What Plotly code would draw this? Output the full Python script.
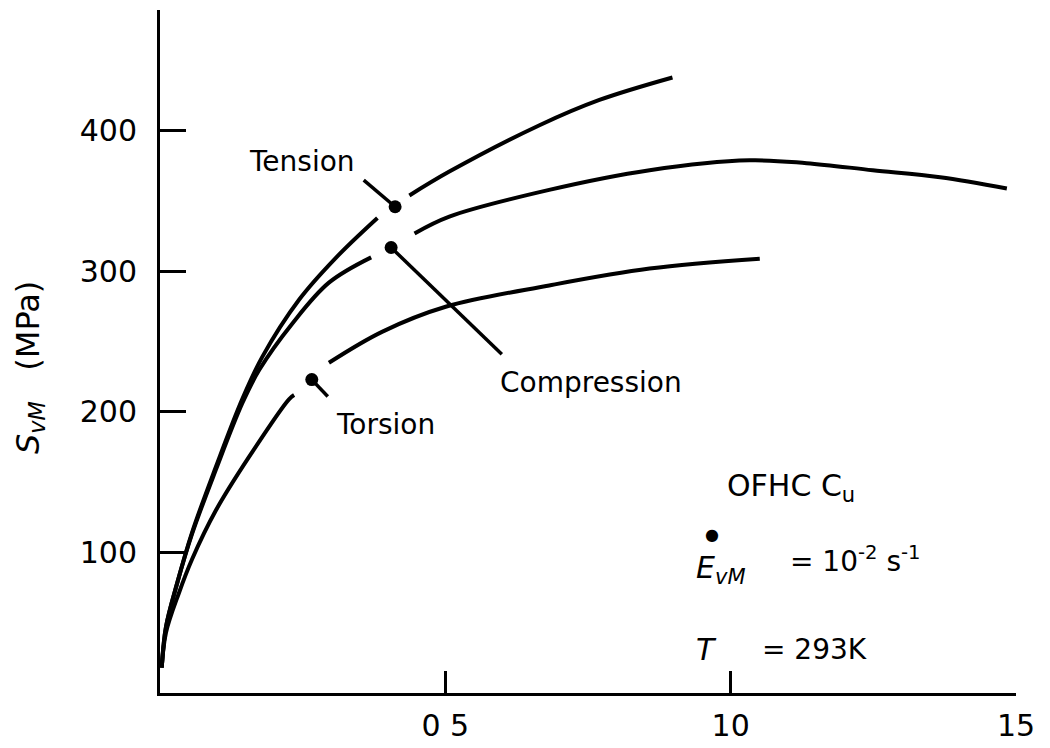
import plotly.graph_objects as go

# ---- data ----
tension_x = [0.003, 0.0105, 0.030, 0.056, 0.098, 0.144, 0.179, 0.244, 0.309, 0.381,
             None, 0.437, 0.507, 0.665, 0.770, 0.898]
tension_y = [18, 47, 78, 114, 161, 209, 239, 280, 310, 338,
             None, 354, 371, 404, 422, 438]

compression_x = [0.003, 0.0105, 0.030, 0.056, 0.098, 0.144, 0.174, 0.232, 0.296, 0.370,
                 None, 0.446, 0.507, 0.682, 0.858, 1.033, 1.133, 1.249, 1.367, 1.484]
compression_y = [18, 47, 78, 113, 159, 206, 230, 263, 292, 310,
                 None, 327, 339, 358, 372, 379, 377, 372, 367, 359]

torsion_x = [0.003, 0.0105, 0.033, 0.056, 0.098, 0.156, 0.226, 0.235,
             None, 0.296, 0.389, 0.502, 0.682, 0.858, 1.051]
torsion_y = [18, 43, 71, 95, 130, 168, 209, 212,
             None, 235, 257, 275, 290, 302, 309]

labels = ["Tension", "Compression", "Torsion"]
dot_x = [0.412, 0.405, 0.266]
dot_y = [346, 317, 223]
leader_end_x = [0.357, 0.599, 0.294]
leader_end_y = [365, 241, 211]
label_x = [0.249, 0.755, 0.396]
label_y = [378, 221, 191]

x_tickvals = [0.5, 1.0, 1.5]
x_ticktext = ["0 5", "10", "15"]
y_tickvals = [100, 200, 300, 400]
y_ticktext = ["100", "200", "300", "400"]

FONT = "DejaVu Sans"
INK = "black"

fig = go.Figure()

for xs, ys in [(tension_x, tension_y), (compression_x, compression_y), (torsion_x, torsion_y)]:
    fig.add_trace(go.Scatter(x=xs, y=ys, mode="lines",
                             line=dict(color=INK, width=4, shape="spline", smoothing=1.0),
                             connectgaps=False, showlegend=False, hoverinfo="skip"))

# leader lines
for i in range(3):
    fig.add_trace(go.Scatter(x=[dot_x[i], leader_end_x[i]], y=[dot_y[i], leader_end_y[i]],
                             mode="lines", line=dict(color=INK, width=3.5),
                             showlegend=False, hoverinfo="skip"))

# dots
fig.add_trace(go.Scatter(x=dot_x, y=dot_y, mode="markers",
                         marker=dict(color=INK, size=13),
                         showlegend=False, hoverinfo="skip"))

annotations = []
for i in range(3):
    annotations.append(dict(x=label_x[i], y=label_y[i], xref="x", yref="y",
                            text=labels[i], showarrow=False,
                            font=dict(family=FONT, size=28, color=INK)))

# text block
annotations += [
    dict(x=0.990, y=146, xref="x", yref="y", xanchor="left", text="OFHC C<sub>u</sub>",
         showarrow=False, font=dict(family=FONT, size=30, color=INK)),
    dict(x=0.967, y=113, xref="x", yref="y", text="●", showarrow=False,
         font=dict(family=FONT, size=16, color=INK)),
    dict(x=0.935, y=88, xref="x", yref="y", xanchor="left",
         text="<i>E</i><sub><i>vM</i></sub>",
         showarrow=False, font=dict(family=FONT, size=30, color=INK)),
    dict(x=1.100, y=95, xref="x", yref="y", xanchor="left",
         text="= 10<sup>-2</sup> s<sup>-1</sup>",
         showarrow=False, font=dict(family=FONT, size=28, color=INK)),
    dict(x=0.935, y=31, xref="x", yref="y", xanchor="left", text="<i>T</i>",
         showarrow=False, font=dict(family=FONT, size=30, color=INK)),
    dict(x=1.051, y=31, xref="x", yref="y", xanchor="left", text="= 293K",
         showarrow=False, font=dict(family=FONT, size=28, color=INK)),
    dict(x=-0.152, y=0.477, xref="paper", yref="paper", textangle=-90,
         xanchor="center", yanchor="middle",
         text="<i>S</i><sub><i>vM</i></sub>   (MPa)", showarrow=False,
         font=dict(family=FONT, size=32, color=INK)),
]

fig.update_layout(
    width=1050, height=748,
    margin=dict(l=152, r=42, t=2, b=63),
    paper_bgcolor="white", plot_bgcolor="white",
    showlegend=False,
    annotations=annotations,
    font=dict(family=FONT, size=24, color=INK),
)
fig.update_xaxes(range=[0, 1.5], tickvals=x_tickvals, ticktext=x_ticktext,
                 ticks="inside", ticklen=22, tickwidth=3, tickcolor=INK,
                 showline=True, linewidth=3, linecolor=INK, showgrid=False,
                 zeroline=False, ticklabelstandoff=4,
                 tickfont=dict(family=FONT, size=30, color=INK))
fig.update_yaxes(range=[0, 486], tickvals=y_tickvals, ticktext=y_ticktext,
                 ticks="inside", ticklen=26, tickwidth=3, tickcolor=INK,
                 showline=True, linewidth=3, linecolor=INK, showgrid=False,
                 zeroline=False, ticklabelstandoff=14,
                 tickfont=dict(family=FONT, size=30, color=INK))

fig.write_html("out.html")
